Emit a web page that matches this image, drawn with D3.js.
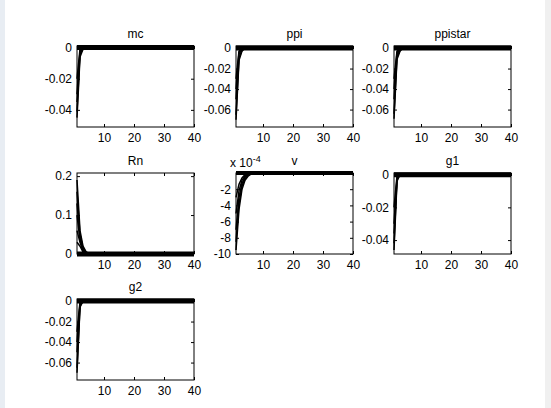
<!DOCTYPE html><html><head><meta charset="utf-8"><script src="https://cdn.jsdelivr.net/npm/d3@7"></script>
<style>body{margin:0;background:#fff}text{font-family:Arial,"Liberation Sans",sans-serif;font-size:12px}</style></head><body>
<svg id="c" width="551" height="408"></svg>
<script>
const periods = d3.range(1, 41);
const xTicks = [10, 20, 30, 40];
// impulse responses (first periods; remaining periods are zero)
const mc = [[-0.041,-0.004,-0.001,0],[-0.030,-0.002,0],[-0.035,-0.003,-0.0005,0],[-0.020,-0.001,0],[-0.045,-0.006,-0.001,0]];
const ppi = [[-0.065,-0.010,-0.002,0],[-0.050,-0.006,-0.001,0],[-0.040,-0.004,0],[-0.070,-0.012,-0.003,0],[-0.030,-0.003,0]];
const ppistar = [[-0.064,-0.009,-0.002,0],[-0.050,-0.006,-0.001,0],[-0.040,-0.004,0],[-0.069,-0.011,-0.003,0],[-0.030,-0.003,0]];
const Rn = [[0.19,0.06,0.02,0.006,0.001,0],[0.13,0.04,0.012,0.003,0],[0.10,0.035,0.01,0.002,0],[0.06,0.03,0.008,0.002,0],[0.03,0.02,0.005,0.001,0],[0.16,0.05,0.015,0.004,0.001,0]];
const v = [[-9.5e-4,-4.5e-4,-2e-4,-0.9e-4,-0.4e-4,-0.15e-4,0],[-7e-4,-3e-4,-1.3e-4,-0.5e-4,-0.2e-4,0],[-5e-4,-2.2e-4,-0.9e-4,-0.35e-4,-0.1e-4,0],[-3e-4,-1.4e-4,-0.6e-4,-0.2e-4,0],[-8.5e-4,-3.8e-4,-1.6e-4,-0.7e-4,-0.3e-4,-0.1e-4,0]];
const g1 = [[-0.042,-0.003,0],[-0.030,-0.002,0],[-0.036,-0.0025,0],[-0.020,-0.001,0],[-0.046,-0.004,0]];
const g2 = [[-0.065,-0.005,0],[-0.050,-0.003,0],[-0.040,-0.002,0],[-0.070,-0.006,0],[-0.030,-0.001,0]];
const titles = ["mc","ppi","ppistar","Rn","v","g1","g2"];
const seriesSets = [mc, ppi, ppistar, Rn, v, g1, g2];
const yDomains = [[-0.051,0.001],[-0.077,0.002],[-0.077,0.002],[0,0.208],[-10e-4,0],[-0.0485,0.001],[-0.077,0.002]];
const yTicks = [[-0.04,-0.02,0],[-0.06,-0.04,-0.02,0],[-0.06,-0.04,-0.02,0],[0,0.1,0.2],[-10e-4,-8e-4,-6e-4,-4e-4,-2e-4],[-0.04,-0.02,0],[-0.06,-0.04,-0.02,0]];
const colX = [77, 236, 394], rowY = [46, 173, 299], W = 117, H = 81;
const svg = d3.select("#c");
svg.append("rect").attr("x",0).attr("y",0).attr("width",5).attr("height",408).attr("fill","#e8edf3");
svg.append("rect").attr("x",545).attr("y",0).attr("width",6).attr("height",408).attr("fill","#f0f0f0");
const full = s => periods.map((p,i) => i < s.length ? s[i] : 0);
const fmt = (d, isV) => isV ? String(Math.round(d*1e4)) : (d === 0 ? "0" : String(+d.toFixed(2)));
titles.forEach((t, k) => {
  const x0 = colX[k % 3], y0 = rowY[Math.floor(k / 3)];
  const g = svg.append("g").attr("transform", `translate(${x0},${y0})`);
  const x = d3.scaleLinear().domain([1, 40]).range([0, W]);
  const y = d3.scaleLinear().domain(yDomains[k]).range([H, 0]);
  const line = d3.line().x((d,i) => x(periods[i])).y(d => y(d));
  g.append("rect").attr("width",W).attr("height",H).attr("fill","#fff");
  seriesSets[k].forEach(s => g.append("path").attr("d", line(full(s))).attr("fill","none").attr("stroke","#000").attr("stroke-width",1.5));
  g.append("path").attr("d", line(periods.map(()=>0))).attr("fill","none").attr("stroke","#000").attr("stroke-width",k===4?4:5);
  const isV = k === 4;
  const ya = d3.axisLeft(y).tickValues(yTicks[k]).tickSize(-3).tickPadding(5).tickFormat(d => fmt(d, isV));
  const xa = d3.axisBottom(x).tickValues(xTicks).tickSize(-3).tickPadding(6);
  g.append("g").call(ya); g.append("g").attr("transform",`translate(0,${H})`).call(xa);
  g.append("g").attr("transform",`translate(${W},0)`).call(d3.axisRight(y).tickValues(yTicks[k]).tickSize(-3).tickFormat(""));
  g.append("g").call(d3.axisTop(x).tickValues(xTicks).tickSize(-3).tickFormat(""));
  g.selectAll(".domain").remove();
  g.selectAll("text").attr("fill","#000").style("font-size","12px");
  g.append("rect").attr("width",W).attr("height",H).attr("fill","none").attr("stroke","#000");
  g.append("text").attr("x",W/2).attr("y",-8).attr("text-anchor","middle").text(t);
  if (isV) {
    const e = g.append("text").attr("x",-6).attr("y",-6);
    e.append("tspan").text("x 10");
    e.append("tspan").attr("dy",-5).style("font-size","9px").text("-4");
  }
});
</script></body></html>
